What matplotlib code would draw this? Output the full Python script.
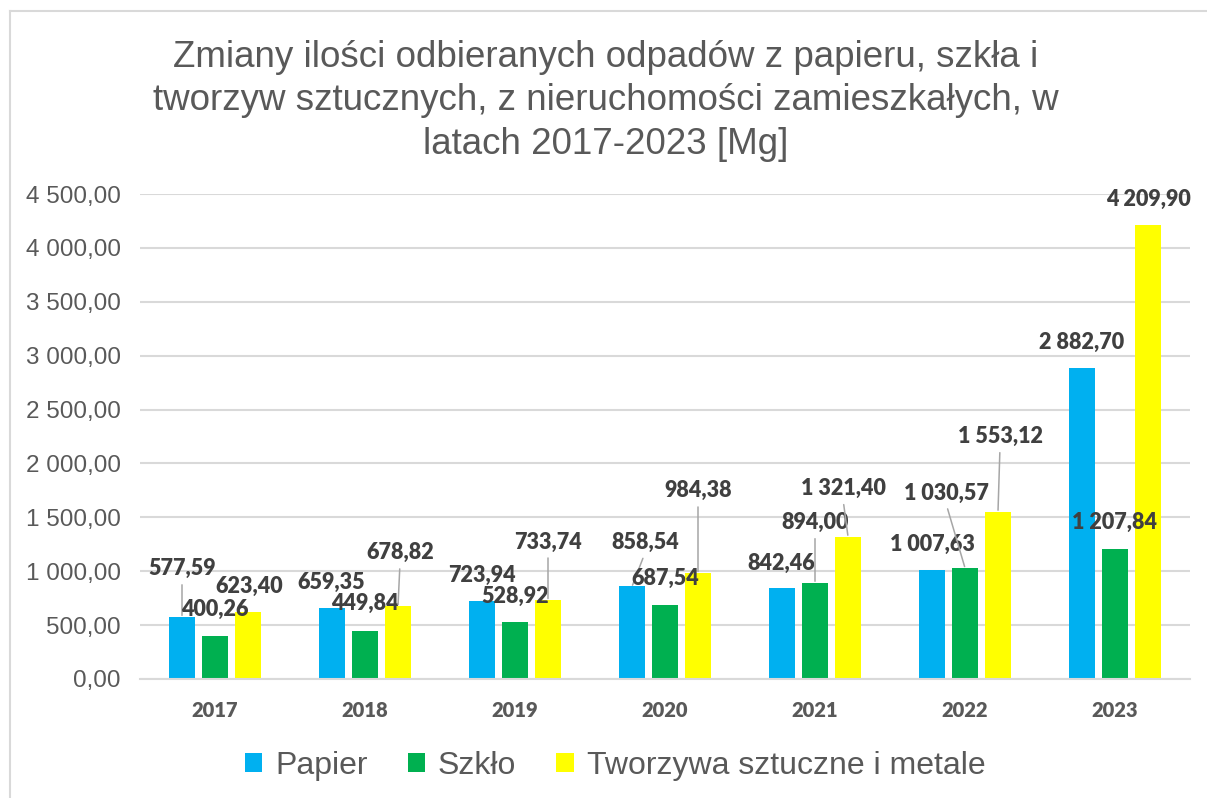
import matplotlib
matplotlib.use("Agg")
import matplotlib.pyplot as plt
from matplotlib.lines import Line2D
import numpy as np

# Data
years = ["2017", "2018", "2019", "2020", "2021", "2022", "2023"]
papier = [577.59, 659.35, 723.94, 858.54, 842.46, 1007.63, 2882.70]
szklo = [400.26, 449.84, 528.92, 687.54, 894.00, 1030.57, 1207.84]
tworzywa = [623.40, 678.82, 733.74, 984.38, 1321.40, 1553.12, 4209.90]
series_names = ["Papier", "Szkło", "Tworzywa sztuczne i metale"]

colors = ["#00B0F0", "#00B050", "#FFFF00"]

# label offsets from bar top in pixels (dx, dy), as placed in the original
label_offsets = [
    [(0, 48), (-1, 26), (0, 26), (13, 44), (-1, 25), (0, 26), (0, 26)],
    [(0, 26), (0, 27), (0, 26), (0, 26), (0, 60), (-19, 75), (0, 26)],
    [(1, 25), (2, 53), (0, 58), (0, 82), (-5, 48), (2, 75), (0, 26)],
]

W, H = 1207, 798
fig = plt.figure(figsize=(W / 100, H / 100), dpi=100)
ax = fig.add_axes([140 / W, 119 / H, 1050 / W, 485 / H])

def fmt(v):
    return f"{v:,.2f}".replace(",", " ").replace(".", ",")

x = np.arange(len(years))
shifts = [-0.22, 0, 0.22]
width = 0.173
for k, vals in enumerate([papier, szklo, tworzywa]):
    ax.bar(x + shifts[k], vals, width, color=colors[k], label=series_names[k], zorder=2)
    for i, v in enumerate(vals):
        dx, dy = label_offsets[k][i]
        arrow = None
        if dy > 40:
            arrow = dict(arrowstyle="-", color="#A6A6A6", lw=1.1,
                         shrinkA=2, shrinkB=1, relpos=(0.5, 0))
        ax.annotate(fmt(v), xy=(x[i] + shifts[k], v), xytext=(dx, dy),
                    textcoords="offset pixels", ha="center", va="center",
                    fontsize=15.5, fontweight="heavy", family="Lato",
                    color="#404040", arrowprops=arrow, zorder=4)

ax.set_xlim(-0.5, 6.5)
ax.set_ylim(0, 4500)
ax.set_yticks(np.arange(0, 4501, 500))
ax.set_yticklabels([fmt(t) for t in np.arange(0, 4501, 500)],
                   family="Liberation Sans", fontsize=17.5, color="#595959")
ax.set_xticks(x)
ax.set_xticklabels(years, family="Lato", fontweight="heavy", fontsize=14.5, color="#595959")
ax.tick_params(axis="both", length=0)
ax.tick_params(axis="y", pad=14)
ax.tick_params(axis="x", pad=16)
ax.grid(axis="y", color="#D9D9D9", lw=1.5, zorder=0)
for s in ["top", "right", "left"]:
    ax.spines[s].set_visible(False)
ax.spines["bottom"].set_color("#D9D9D9")
ax.spines["bottom"].set_linewidth(1.5)

fig.text(606 / W, 1 - 101 / H,
         "Zmiany ilości odbieranych odpadów z papieru, szkła i\n"
         "tworzyw sztucznych, z nieruchomości zamieszkałych, w\n"
         "latach 2017-2023 [Mg]",
         ha="center", va="center", family="Liberation Sans", fontsize=26.5,
         color="#595959", linespacing=1.33)

fig.legend(loc="center", bbox_to_anchor=(615 / W, 1 - 766 / H), ncol=3, frameon=False,
           prop={"family": "Liberation Sans", "size": 23}, labelcolor="#595959",
           handlelength=0.55, handleheight=0.55, handletextpad=0.4, columnspacing=1.25)

# outer chart border
fig.add_artist(Line2D([9.5 / W, 9.5 / W], [0, 1 - 11 / H], color="#D9D9D9", lw=1.5))
fig.add_artist(Line2D([9.5 / W, 1], [1 - 11 / H, 1 - 11 / H], color="#D9D9D9", lw=1.5))

fig.savefig("out.png", dpi=100)
